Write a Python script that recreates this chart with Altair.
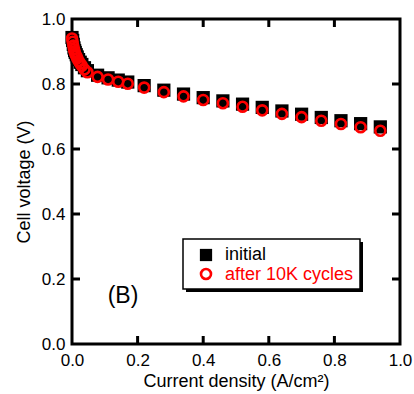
import altair as alt
import pandas as pd

# Polarization curves: current density (A/cm2) vs cell voltage (V)
current = [0.0, 0.002, 0.004, 0.006, 0.008, 0.010, 0.013, 0.016, 0.020, 0.025,
           0.030, 0.038, 0.047, 0.078, 0.110, 0.141, 0.170, 0.220, 0.280, 0.340,
           0.400, 0.460, 0.520, 0.580, 0.640, 0.700, 0.760, 0.820, 0.880, 0.940]
v_initial = [0.943, 0.934, 0.922, 0.911, 0.903, 0.897, 0.890, 0.883, 0.875, 0.867,
             0.860, 0.850, 0.841, 0.827, 0.819, 0.812, 0.806, 0.795, 0.781, 0.769,
             0.758, 0.748, 0.738, 0.728, 0.717, 0.707, 0.697, 0.687, 0.678, 0.668]
v_cycled = [0.940, 0.930, 0.918, 0.907, 0.899, 0.893, 0.886, 0.879, 0.871, 0.863,
            0.856, 0.845, 0.836, 0.822, 0.814, 0.807, 0.801, 0.789, 0.775, 0.762,
            0.751, 0.741, 0.730, 0.719, 0.708, 0.698, 0.687, 0.677, 0.667, 0.656]

series_names = ["initial", "after 10K cycles"]
series_colors = ["black", "#ff0000"]
tick_values = [0.0, 0.2, 0.4, 0.6, 0.8, 1.0]
inner_ticks = [0.2, 0.4, 0.6, 0.8]
panel_tag = "(B)"

W, H = 328, 325
FONT = "Liberation Sans"
TICK_LEN = 8

df = pd.DataFrame({"j": current, "v0": v_initial, "v1": v_cycled})
ticks_df = pd.DataFrame({"t": inner_ticks})
one = pd.DataFrame({"k": [0]})

xs = alt.Scale(domain=[0, 1], nice=False, zero=False)
ys = alt.Scale(domain=[0, 1], nice=False, zero=False)

x_axis = alt.Axis(values=tick_values, format=".1f", title="Current density (A/cm²)",
                  labelFlush=False, labelOverlap=False)
y_axis = alt.Axis(values=tick_values, format=".1f", title="Cell voltage (V)",
                  labelOverlap=False)

base = alt.Chart(df)

squares = base.mark_point(shape="square", filled=True, size=175, color=series_colors[0],
                          opacity=1).encode(
    x=alt.X("j:Q", scale=xs, axis=x_axis),
    y=alt.Y("v0:Q", scale=ys, axis=y_axis),
)

circles = base.mark_point(shape="circle", filled=False, size=100, color=series_colors[1],
                          strokeWidth=2.6, opacity=1).encode(
    x=alt.X("j:Q", scale=xs, axis=x_axis),
    y=alt.Y("v1:Q", scale=ys, axis=y_axis),
)

# inward ticks on all four sides of the frame
tick_base = alt.Chart(ticks_df).mark_rule(color="black", strokeWidth=3)
t_bottom = tick_base.encode(x=alt.X("t:Q", scale=xs, axis=x_axis),
                            y=alt.value(H), y2=alt.value(H - TICK_LEN))
t_top = tick_base.encode(x=alt.X("t:Q", scale=xs, axis=x_axis),
                         y=alt.value(0), y2=alt.value(TICK_LEN))
t_left = tick_base.encode(y=alt.Y("t:Q", scale=ys, axis=y_axis),
                          x=alt.value(0), x2=alt.value(TICK_LEN))
t_right = tick_base.encode(y=alt.Y("t:Q", scale=ys, axis=y_axis),
                           x=alt.value(W), x2=alt.value(W - TICK_LEN))

# legend box with drop shadow
lx0, lx1, ly0, ly1 = 111, 288, 220, 270
leg = alt.Chart(one)
shadow = leg.mark_rect(color="black").encode(
    x=alt.value(lx0 + 3), x2=alt.value(lx1 + 3), y=alt.value(ly0 + 3), y2=alt.value(ly1 + 3))
box = leg.mark_rect(fill="white", stroke="black", strokeWidth=1.5).encode(
    x=alt.value(lx0), x2=alt.value(lx1), y=alt.value(ly0), y2=alt.value(ly1))
leg_sq = leg.mark_point(shape="square", filled=True, size=150, color=series_colors[0],
                        opacity=1).encode(x=alt.value(134), y=alt.value(236))
leg_ci = leg.mark_point(shape="circle", filled=False, size=100, color=series_colors[1],
                        strokeWidth=2.6, opacity=1).encode(x=alt.value(134), y=alt.value(255))
leg_t0 = leg.mark_text(align="left", baseline="middle", fontSize=18, font=FONT,
                       color=series_colors[0], text=series_names[0]).encode(
    x=alt.value(153), y=alt.value(236))
leg_t1 = leg.mark_text(align="left", baseline="middle", fontSize=18, font=FONT,
                       color=series_colors[1], text=series_names[1]).encode(
    x=alt.value(153), y=alt.value(256))

tag = leg.mark_text(align="center", baseline="middle", fontSize=23, font=FONT,
                    color="black", text=panel_tag).encode(x=alt.value(51), y=alt.value(277))

chart = alt.layer(
    squares, circles, t_bottom, t_top, t_left, t_right,
    shadow, box, leg_sq, leg_ci, leg_t0, leg_t1, tag,
).properties(
    width=W, height=H,
    autosize=alt.AutoSizeParams(type="none"),
    padding={"left": 72, "top": 19, "right": 14, "bottom": 50},
    background="white",
).configure_view(
    stroke="black", strokeWidth=3,
).configure_axis(
    grid=False, domain=False, ticks=False,
    labelFont=FONT, labelFontSize=17, labelColor="black",
    titleFont=FONT, titleFontSize=18, titleFontWeight="normal", titleColor="black",
).configure_axisX(
    labelPadding=8, titlePadding=4,
).configure_axisY(
    labelPadding=7, titlePadding=8,
)

chart.save("out.html", embed_options={"renderer": "svg", "actions": False})
